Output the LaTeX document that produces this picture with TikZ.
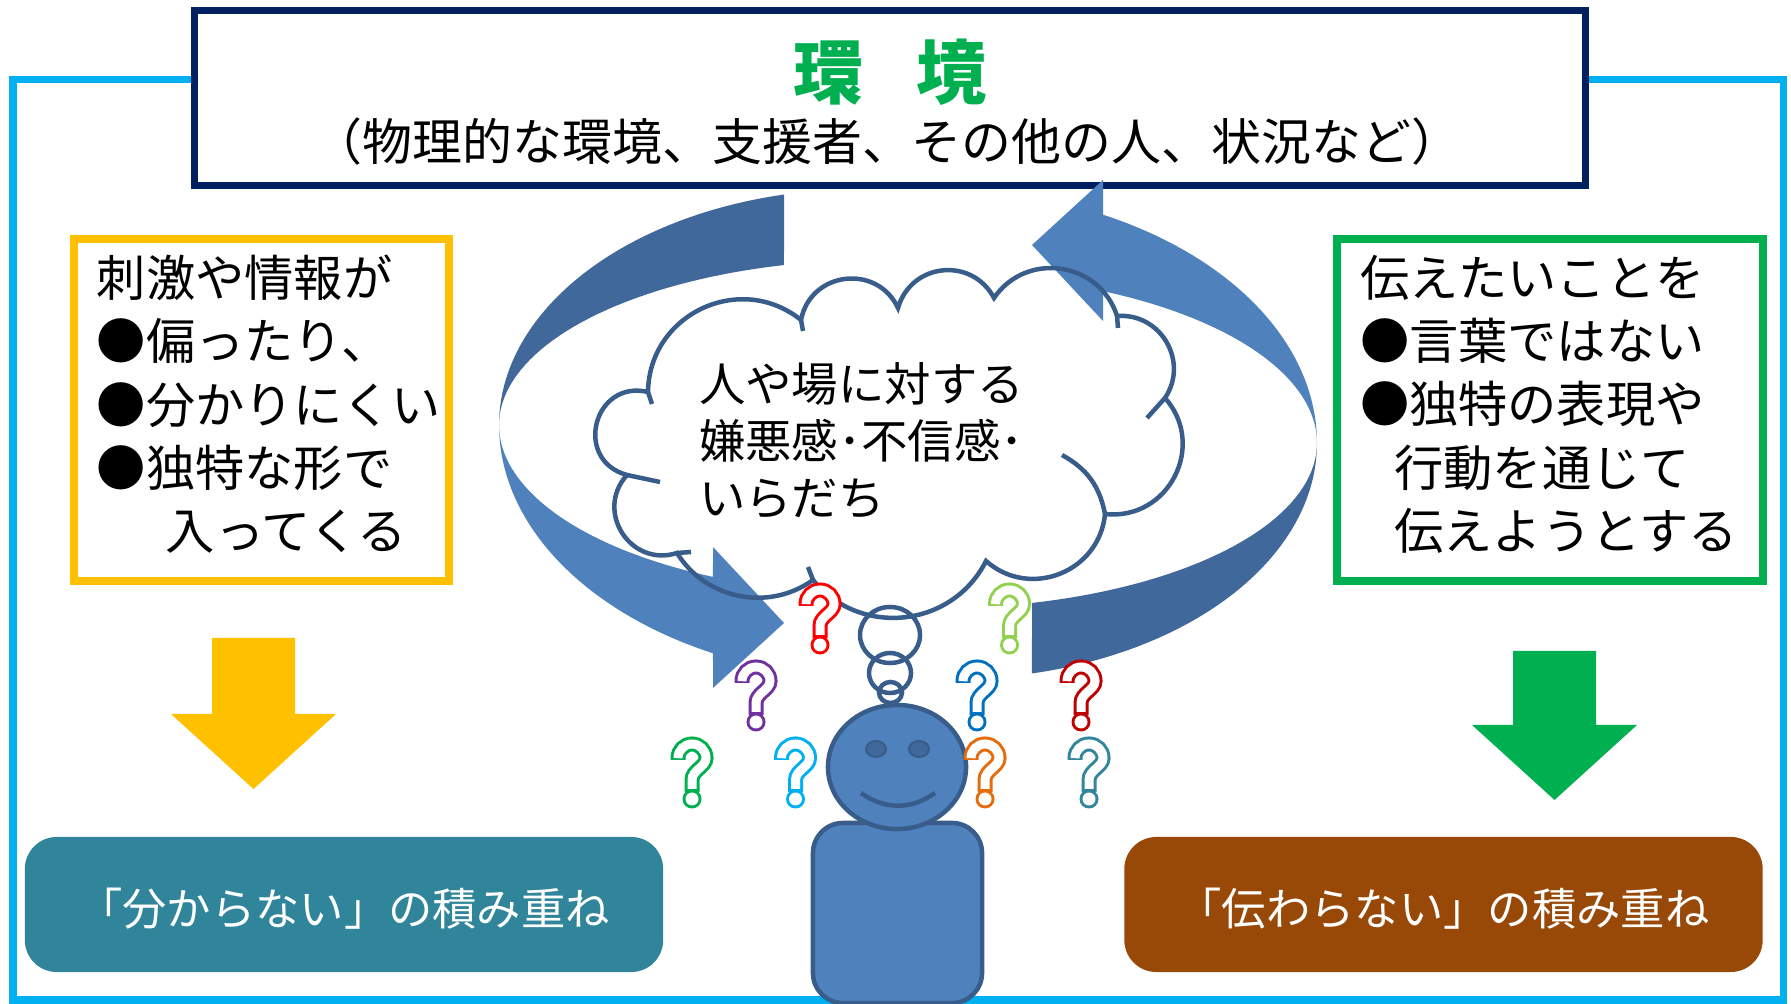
\documentclass[tikz,border=0pt]{standalone}
\usepackage{fontspec}
\usepackage{tikz}
\usetikzlibrary{shapes.geometric}
\newfontfamily\jp{Noto Sans CJK JP}

\definecolor{frameblue}{RGB}{0,176,240}
\definecolor{navy}{RGB}{0,32,96}
\definecolor{envgreen}{RGB}{0,176,80}
\definecolor{amber}{RGB}{255,192,0}
\definecolor{ringdark}{RGB}{65,104,154}
\definecolor{ringlight}{RGB}{79,129,189}
\definecolor{edgeblue}{RGB}{56,93,138}
\definecolor{tealbox}{RGB}{49,133,155}
\definecolor{brownbox}{RGB}{152,72,7}
\definecolor{qred}{RGB}{255,0,0}
\definecolor{qlime}{RGB}{146,208,80}
\definecolor{qpurple}{RGB}{112,48,160}
\definecolor{qblue}{RGB}{0,112,192}
\definecolor{qdarkred}{RGB}{192,0,0}
\definecolor{qgreen}{RGB}{0,176,80}
\definecolor{qcyan}{RGB}{0,176,240}
\definecolor{qorange}{RGB}{228,108,10}
\definecolor{qteal}{RGB}{49,133,156}

% centre line of a question mark, top of glyph at the origin
\newcommand\qmarkpath{(-14,23) -- (-14,21) .. controls (-14,13.3) and (-7.7,7) .. (0,7)
  .. controls (7.7,7) and (14,13.3) .. (14,21) .. controls (14,30) and (0,33) .. (0,43) -- (0,55)}

\tikzset{
  % half of the cycle: flat end at the top, head at the bottom
  ringarrow/.pic={
    \fill[ringdark] plot[domain=102.4:180, samples=40] ({862+363*cos(\x)}, {425-236*sin(\x)})
      -- plot[domain=180:104.6, samples=40] ({880+381*cos(\x)}, {425-165.3*sin(\x)}) -- cycle;
    \fill[ringlight] plot[domain=180:244, samples=40] ({880+381*cos(\x)}, {425-254*sin(\x)})
      -- (713,688) -- (784,623) -- (713,547)
      -- plot[domain=244:180, samples=40] ({880+381*cos(\x)}, {425-169*sin(\x)}) -- cycle;
  },
  pics/qmark/.style={code={
    \draw[color=#1, line width=0.15cm] \qmarkpath;
    \fill[color=#1] (0,62) circle[radius=9.5];
    \draw[white, line width=0.09cm, shorten <=0.03cm, shorten >=0.03cm] \qmarkpath;
    \fill[white] (0,62) circle[radius=6.5];
  }}
}

\begin{document}
\begin{tikzpicture}[x=0.01cm, y=-0.01cm,
    every node/.style={inner sep=0pt, outer sep=0pt},
    outerframe/.style={draw=frameblue, line width=0.07cm},
    headbox/.style={draw=navy, fill=white, line width=0.07cm, minimum width=13.9cm, minimum height=1.74cm},
    listbox/.style={fill=white, line width=0.08cm, minimum height=3.42cm},
    listtext/.style={anchor=north west, align=left, font=\jp\fontsize{14pt}{18pt}\selectfont},
    result/.style={rounded corners=0.32cm, minimum width=6.38cm, minimum height=1.35cm,
      text=white, font=\jp\fontsize{12.6pt}{16pt}\selectfont},
    blueedge/.style={draw=edgeblue, line width=0.045cm}]
\useasboundingbox (0,0) rectangle (1791,1004);

\draw[outerframe] (13,80) rectangle (1783,1000);

% heading
\node[headbox] (envbox) at (890,98) {};
\node[anchor=base, text=envgreen, font=\jp\bfseries\fontsize{19.9pt}{24pt}\selectfont] (envname) at (890,99) {環\hspace{0.75em}境};
\node[anchor=base, font=\jp\fontsize{14.2pt}{17pt}\selectfont] (envsub) at (887,161) {（物理的な環境、支援者、その他の人、状況など）};

% side boxes
\node[listbox, draw=amber, minimum width=3.75cm] (inbox) at (261.5,410) {};
\node[listtext] (intext) at (97,255) {刺激や情報が\\●偏ったり、\\●分かりにくい\\●独特な形で\\\hspace{1.4em}入ってくる};
\node[listbox, draw=envgreen, minimum width=4.26cm] (outbox) at (1550,410) {};
\node[listtext] (outtext) at (1360,255) {伝えたいことを\\●言葉ではない\\●独特の表現や\\\hspace{0.7em}行動を通じて\\\hspace{0.7em}伝えようとする};

% down arrows
\fill[amber] (212,638) -- (295,638) -- (295,714) -- (336,714) -- (253.5,789) -- (171,714) -- (212,714) -- cycle;
\fill[envgreen] (1513,651) -- (1596,651) -- (1596,725) -- (1637,725) -- (1554.5,800) -- (1472,725) -- (1513,725) -- cycle;

% results
\node[result, fill=tealbox] (unclear) at (344,904.5) {\raisebox{-0.04cm}[\height][\depth]{「分からない」の積み重ね}};
\node[result, fill=brownbox] (unsaid) at (1443.5,904.5) {\raisebox{-0.04cm}[\height][\depth]{「伝わらない」の積み重ね}};

% the cycle
\pic at (0,0) {ringarrow};
\pic[rotate=180] at (1816,868) {ringarrow};

% thought cloud
\draw[blueedge] (648,392)
  to[bend left=64, looseness=1.18] (801,320)
  to[bend left=72, looseness=1.3] (898,308)
  to[bend left=68, looseness=1.25] (994,298)
  to[bend left=64, looseness=1.18] (1117,316)
  to[bend left=64, looseness=1.18] (1165,398)
  to[bend left=69, looseness=1.25] (1105,514)
  to[bend left=63, looseness=1.17] (986,561)
  to[bend left=57, looseness=1.1] (813,580)
  to[bend left=47, looseness=1.01] (677,553)
  to[bend left=75, looseness=1.35] (627,475)
  to[bend left=89, looseness=1.68] (648,392);
\draw[blueedge] (648,392) -- (652,404) (627,475) -- (660,482) (677,553) -- (691,552)
  (813,580) -- (808,567) (1165,398) -- (1147,418) (1117,316) -- (1118,328)
  (801,320) -- (803,331) (1062,455) to[bend left=25] (1105,514);
\node[anchor=north west, align=left, font=\jp\fontsize{13.2pt}{16.2pt}\selectfont] (feel) at (699,363) {人や場に対する\\嫌悪感･不信感･\\いらだち};

\node[blueedge, ellipse, minimum width=0.6cm, minimum height=0.56cm] (bub1) at (890,635) {};
\node[blueedge, ellipse, minimum width=0.42cm, minimum height=0.4cm] (bub2) at (890,673) {};
\node[blueedge, ellipse, minimum width=0.23cm, minimum height=0.21cm] (bub3) at (890.5,692.5) {};

% person
\node[blueedge, fill=ringlight, rounded corners=0.3cm, minimum width=1.69cm, minimum height=1.8cm] (body) at (897.5,913) {};
\node[blueedge, fill=ringlight, ellipse, minimum width=1.38cm, minimum height=1.24cm] (head) at (897,767) {};
\node[draw=edgeblue, line width=0.02cm, fill=ringdark, ellipse, minimum width=0.2cm, minimum height=0.16cm] (leye) at (876,749) {};
\node[draw=edgeblue, line width=0.02cm, fill=ringdark, ellipse, minimum width=0.2cm, minimum height=0.16cm] (reye) at (919,749) {};
\draw[blueedge] (861,793) .. controls (885,810) and (911,810) .. (935,793);

% question marks
\foreach \qx/\qy/\qc in {820/583/qred, 1009.5/583/qlime, 756/660/qpurple, 977/660/qblue,
    1081/660/qdarkred, 692/737/qgreen, 795.5/737/qcyan, 985/737/qorange, 1089/737/qteal}
  \pic at (\qx,\qy) {qmark=\qc};
\end{tikzpicture}
\end{document}
